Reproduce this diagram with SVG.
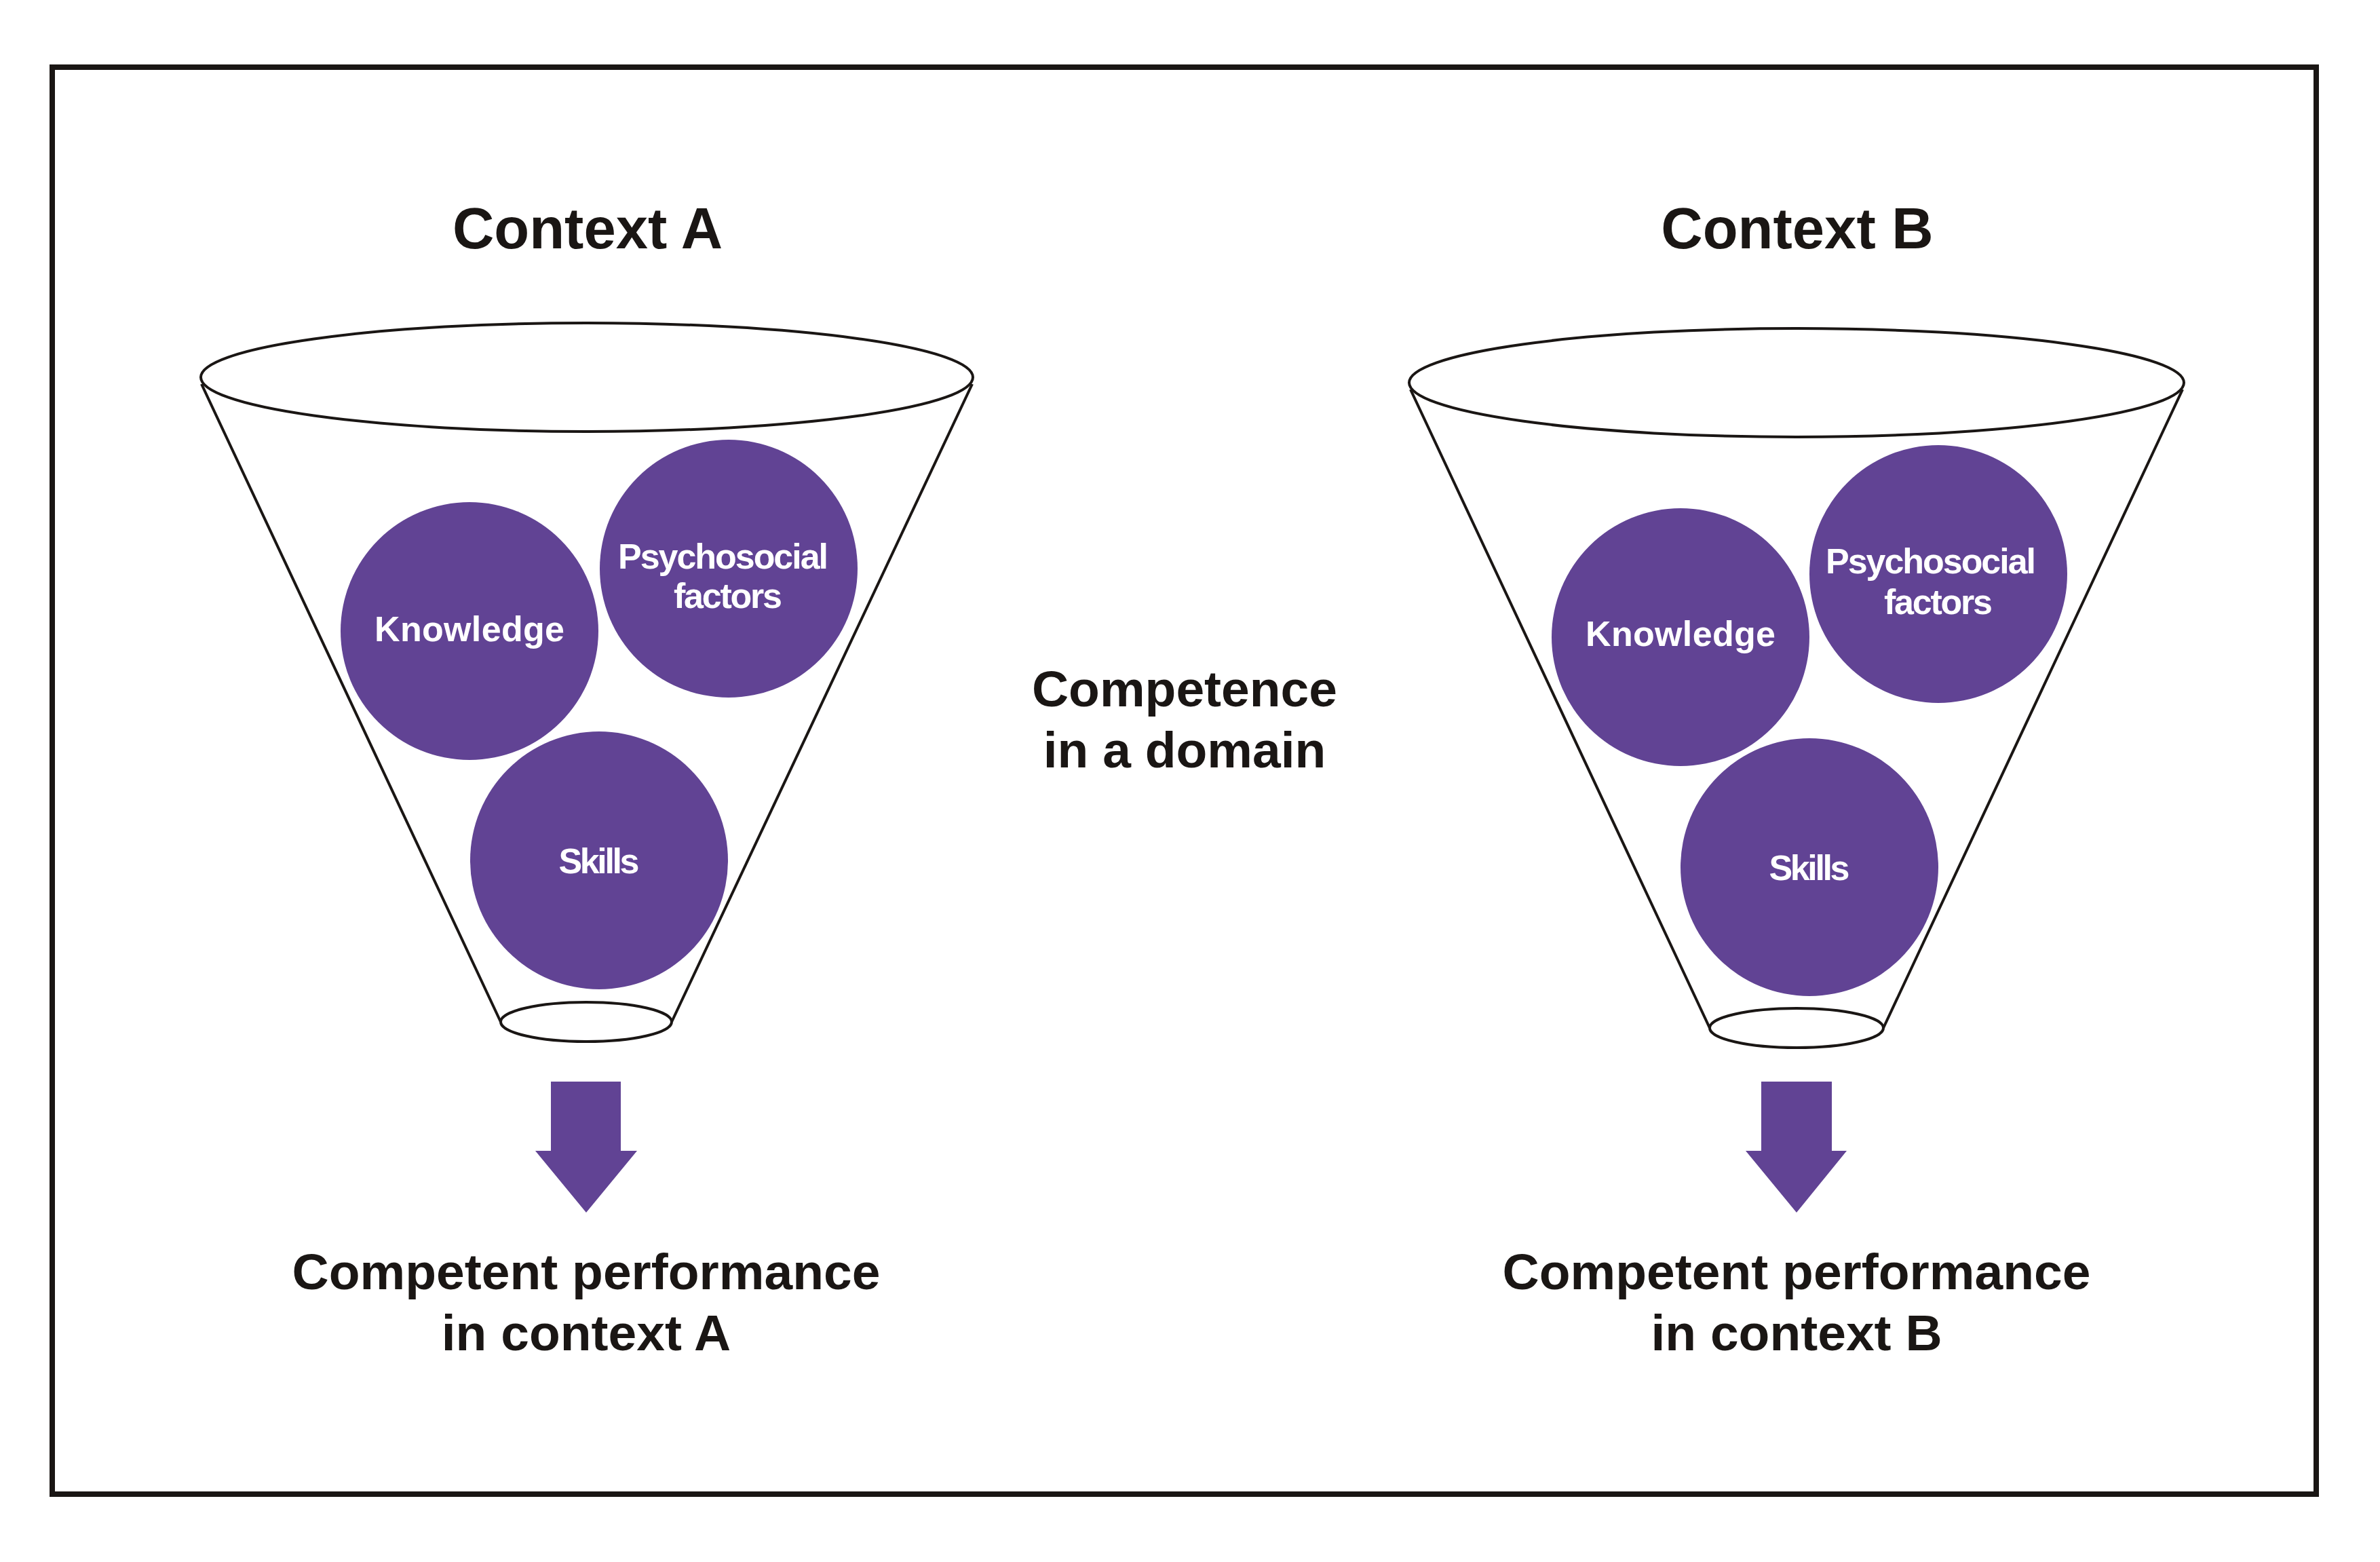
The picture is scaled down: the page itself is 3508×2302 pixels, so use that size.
<svg xmlns="http://www.w3.org/2000/svg" width="3508" height="2302" viewBox="0 0 3508 2302">
  <style>
    .frame { fill: none; stroke: #1a1614; stroke-width: 8; }
    .funnel { fill: none; stroke: #1a1614; stroke-width: 4; }
    .ball { fill: #614394; }
    .arrow { fill: #614394; }
    .title { font-family: "Liberation Sans", Arial, sans-serif; font-weight: bold; fill: #1a1614; text-anchor: middle; }
    .big { font-size: 85px; }
    .mid { font-size: 75px; }
    .lbl { font-family: "Liberation Sans", Arial, sans-serif; font-weight: bold; font-size: 52px; fill: #ffffff; text-anchor: middle; }
  </style>
  <rect width="3508" height="2302" fill="#ffffff"/>
  <rect class="frame" x="77" y="99" width="3337" height="2103"/>

  <g id="context-a">
    <text class="title big" x="866" y="366">Context A</text>
    <g id="funnel-a">
      <ellipse class="funnel" cx="865" cy="556" rx="569" ry="80"/>
      <line class="funnel" x1="297" y1="566" x2="738" y2="1506"/>
      <line class="funnel" x1="1433" y1="566" x2="990" y2="1506"/>
      <ellipse class="funnel" cx="864" cy="1506" rx="126" ry="29"/>
    </g>
  </g>
  <g id="knowledge-a">
    <circle class="ball" cx="692" cy="930" r="190"/>
    <text class="lbl" x="692" y="945" textLength="280">Knowledge</text>
  </g>
  <g id="psychosocial-a">
    <circle class="ball" cx="1074" cy="838" r="190"/>
    <text class="lbl" x="1066" y="838" textLength="310">Psychosocial</text>
    <text class="lbl" x="1073" y="896" textLength="160">factors</text>
  </g>
  <g id="skills-a">
    <circle class="ball" cx="883" cy="1268" r="190"/>
    <text class="lbl" x="883" y="1287" textLength="119">Skills</text>
  </g>
  <g id="performance-a">
    <text class="title mid" x="864" y="1900">Competent performance</text>
    <text class="title mid" x="864" y="1990">in context A</text>
  </g>

  <g id="competence">
    <text class="title mid" x="1746" y="1041">Competence</text>
    <text class="title mid" x="1746" y="1131">in a domain</text>
  </g>

  <g id="context-b">
    <text class="title big" x="2649" y="366">Context B</text>
    <g id="funnel-b">
      <ellipse class="funnel" cx="2648" cy="564" rx="571" ry="80"/>
      <line class="funnel" x1="2079" y1="574" x2="2520" y2="1515"/>
      <line class="funnel" x1="3217" y1="574" x2="2776" y2="1515"/>
      <ellipse class="funnel" cx="2648" cy="1515" rx="128" ry="29"/>
    </g>
  </g>
  <g id="knowledge-b">
    <circle class="ball" cx="2477" cy="939" r="190"/>
    <text class="lbl" x="2477" y="952" textLength="280">Knowledge</text>
  </g>
  <g id="psychosocial-b">
    <circle class="ball" cx="2857" cy="846" r="190"/>
    <text class="lbl" x="2846" y="845" textLength="310">Psychosocial</text>
    <text class="lbl" x="2857" y="905" textLength="160">factors</text>
  </g>
  <g id="skills-b">
    <circle class="ball" cx="2667" cy="1278" r="190"/>
    <text class="lbl" x="2667" y="1297" textLength="119">Skills</text>
  </g>
  <g id="performance-b">
    <text class="title mid" x="2648" y="1900">Competent performance</text>
    <text class="title mid" x="2648" y="1990">in context B</text>
  </g>

  <g id="connectors">
    <polygon class="arrow" points="812,1594 915,1594 915,1696 939,1696 864,1787 789,1696 812,1696"/>
    <polygon class="arrow" points="2596,1594 2700,1594 2700,1696 2722,1696 2648,1787 2573,1696 2596,1696"/>
  </g>
</svg>
